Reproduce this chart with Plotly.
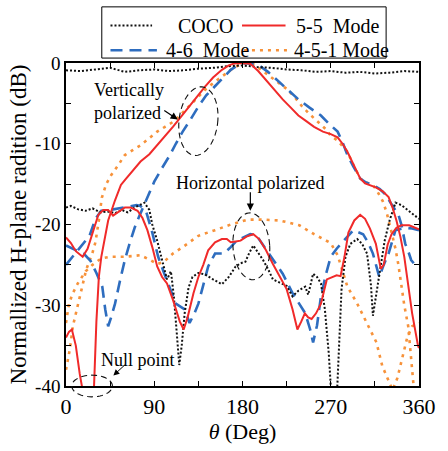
import numpy as np
import plotly.graph_objects as go

# ---------------- data (theta in degrees, normalized level in dB) ----------------
coco_v_theta = [0, 15, 30, 45, 60, 75, 90, 105, 120, 135, 150, 165, 180, 195, 210, 225, 240, 255, 270, 285, 300, 315, 330, 345, 360]
coco_v_db = [-0.9, -1.0, -0.8, -0.6, -1.1, -0.9, -0.8, -1.0, -0.9, -0.7, -0.6, -0.4, -0.3, -0.5, -0.6, -0.8, -0.9, -1.1, -1.0, -1.2, -1.1, -1.3, -1.2, -1.0, -1.1]

coco_h_theta = [0, 5, 12, 20, 27, 35, 43, 50, 57, 63, 70, 76, 80, 85, 88, 93, 98, 103, 107, 110, 113, 115.5, 118, 121, 125, 129, 135, 142, 150, 159, 166, 173, 178, 183, 187, 191, 196, 201, 206, 211, 218, 225, 231, 237, 244, 247, 252, 256, 260, 264, 268, 271, 276, 278, 281, 285, 290, 297, 302, 307, 311, 313, 316, 320, 325, 330, 336, 342, 349, 355, 360]
coco_h_db = [-17.9, -17.7, -18.1, -18.3, -18.0, -18.5, -18.4, -18.6, -18.2, -18.5, -17.9, -17.6, -17.3, -18.2, -20.0, -22.0, -24.5, -26.8, -25.8, -28.9, -33.5, -37.4, -35.0, -31.0, -27.8, -26.5, -26.0, -26.2, -26.8, -27.4, -26.5, -25.2, -24.8, -24.6, -23.5, -22.6, -23.5, -24.4, -25.5, -26.8, -27.2, -27.6, -28.9, -28.2, -27.7, -28.7, -26.1, -26.5, -27.3, -30.5, -36.0, -42.0, -42.0, -36.0, -28.0, -24.0, -22.4, -21.8, -22.4, -23.6, -27.5, -31.3, -29.0, -25.5, -22.0, -19.5, -17.3, -17.6, -18.3, -18.9, -19.3]

m55_v_theta = [0, 3, 6, 10, 14, 17, 22, 26, 28.6, 31, 33.5, 36, 38.5, 43, 50, 56, 60, 68, 76, 85, 93, 101, 109, 117, 125, 133, 142, 150, 159, 166, 172, 180, 188, 196, 204, 212, 221, 229, 237, 245, 253, 262, 270, 277, 282, 287, 293, 300, 305, 310, 316, 323, 329, 333, 337, 341, 345, 349, 353, 359, 360]
m55_v_db = [-34.0, -33.3, -33.0, -35.0, -38.5, -41.0, -44.0, -44.0, -40.0, -32.0, -26.5, -24.0, -22.4, -19.5, -17.0, -15.1, -14.5, -13.3, -12.2, -11.3, -10.2, -9.1, -7.9, -6.7, -5.5, -4.2, -2.9, -1.8, -0.85, -0.3, -0.05, 0.0, -0.1, -1.0, -2.1, -3.3, -4.5, -5.5, -6.5, -7.2, -7.9, -8.5, -8.8, -9.2, -10.0, -11.0, -12.5, -14.3, -14.9, -15.1, -15.4, -15.9, -16.6, -17.9, -19.5, -21.5, -24.0, -27.5, -31.0, -35.0, -35.3]

m55_h_theta = [0, 5, 10, 17, 22, 27, 33, 38, 43, 48, 54, 60, 66, 73, 78, 83, 88, 93, 98, 103, 109, 112, 116, 120, 124, 130, 135, 140, 145, 152, 159, 164, 168, 173, 178, 184, 191, 197, 204, 211, 218, 225, 231, 236, 240, 243.6, 247, 250.5, 255, 260, 266, 272, 276, 280, 284, 288, 294, 300, 305, 310, 316, 321, 324, 328, 332, 337, 342, 350, 360]
m55_h_db = [-21.6, -22.3, -23.3, -24.0, -23.0, -21.2, -18.8, -18.2, -18.2, -18.9, -18.4, -17.9, -17.9, -18.3, -19.2, -20.7, -22.8, -25.2, -26.5, -27.3, -29.3, -30.5, -32.0, -33.0, -31.5, -28.5, -26.5, -25.0, -23.2, -22.2, -21.8, -21.8, -22.2, -22.1, -22.0, -21.5, -21.2, -21.8, -23.2, -24.9, -26.5, -28.0, -30.5, -33.0, -32.0, -31.0, -31.5, -31.7, -31.0, -29.8, -26.8, -26.5, -26.3, -26.4, -24.0, -21.0, -19.5, -18.8, -19.3, -20.5, -22.4, -25.5, -25.0, -22.5, -21.2, -20.4, -20.1, -20.1, -20.6]

m46_v_theta = [0, 6, 12, 18, 25, 31, 37, 40, 43, 46, 50, 55, 60, 65, 70, 75, 80, 85, 90, 98, 106, 112, 119, 127, 135, 143, 152, 160, 168, 175, 181, 188, 198, 206, 214, 225, 237, 248, 260, 268, 277, 282, 287, 293, 300, 306, 313, 320, 326, 332, 336, 339, 342, 346, 349, 352, 356]
m46_v_db = [-22.6, -23.0, -23.3, -23.6, -24.5, -26.0, -27.7, -30.5, -32.6, -31.5, -29.8, -27.0, -24.4, -22.3, -20.4, -18.9, -17.5, -16.0, -14.7, -13.0, -11.4, -10.0, -8.5, -7.0, -5.4, -4.0, -2.9, -1.8, -0.85, -0.3, 0.0, -0.1, -0.4, -1.1, -2.0, -3.2, -4.5, -5.5, -6.5, -7.5, -8.5, -9.8, -11.4, -12.8, -14.3, -14.8, -15.1, -15.6, -16.3, -17.5, -18.2, -18.8, -20.0, -22.4, -23.3, -24.4, -25.0]

m46_h_theta = [0, 8, 16, 24, 30, 36, 45, 55, 65, 72, 76, 82, 88, 94, 100, 106, 112, 121, 126, 131, 135, 140, 145, 152, 161, 168, 174, 181, 188, 194, 199, 204, 212, 221, 231, 238, 244, 249, 252, 256, 260, 265, 270, 276, 283, 293, 303, 308, 313, 319.5, 324, 329, 336, 346, 353, 360]
m46_h_db = [-25.0, -23.8, -22.6, -21.4, -19.3, -18.3, -18.2, -18.0, -17.8, -17.6, -17.7, -18.5, -21.0, -24.0, -26.0, -28.0, -29.8, -30.5, -32.2, -31.0, -29.8, -27.5, -25.2, -23.6, -23.6, -22.8, -22.0, -21.6, -21.2, -21.3, -22.2, -23.2, -24.6, -26.1, -28.5, -29.8, -31.0, -33.0, -34.6, -32.5, -28.9, -26.2, -24.0, -23.0, -22.0, -20.7, -21.2, -22.2, -23.6, -26.5, -25.0, -23.6, -20.7, -20.4, -20.5, -20.7]

m451_v_theta = [0, 4, 7, 14, 20.6, 27, 30, 33.5, 36.5, 41, 46, 53, 60, 68, 76, 85, 93, 101, 109, 117, 125, 133, 142, 150, 159, 166, 172, 180, 186, 192, 200, 209, 217, 225, 233, 241, 249, 257, 265, 270, 277, 282, 287, 293, 300, 306, 313, 318, 323, 327, 330, 333, 336, 339, 342, 345, 349, 352, 354, 356]
m451_v_db = [-38.0, -35.4, -32.6, -28.9, -25.6, -23.5, -22.2, -19.5, -16.7, -15.0, -13.9, -12.7, -11.4, -10.8, -10.2, -9.3, -8.5, -7.9, -7.3, -6.4, -5.4, -4.4, -3.3, -2.5, -1.7, -1.0, -0.5, -0.1, 0.0, -0.2, -0.9, -1.7, -2.4, -3.2, -4.2, -5.4, -6.4, -7.3, -8.2, -9.0, -9.6, -10.3, -11.0, -12.6, -14.3, -14.8, -15.1, -16.0, -17.1, -18.5, -20.0, -21.5, -23.0, -25.0, -27.5, -30.0, -32.6, -36.2, -39.5, -42.0]

m451_h_theta = [0, 3, 7, 12, 20, 27, 36, 45, 60, 76, 86, 93, 100, 109, 119, 135, 152, 168, 185, 201, 218, 238, 253, 262, 270, 277, 287, 297, 307, 316.6, 322.5, 326.5, 329, 333, 338, 343, 348, 353, 360]
m451_h_db = [-32.2, -29.8, -28.5, -27.3, -25.8, -25.0, -24.2, -24.0, -24.0, -23.8, -24.4, -24.9, -24.6, -23.6, -22.8, -21.4, -20.7, -20.0, -19.4, -19.4, -19.5, -20.1, -21.2, -21.8, -22.3, -23.8, -27.7, -29.8, -32.2, -34.6, -37.5, -38.7, -39.5, -40.5, -39.0, -36.5, -34.0, -32.6, -32.2]

series_names = ["COCO", "5-5\u00a0 Mode", "4-6\u00a0 Mode", "4-5-1 Mode"]

x_tick_vals = [0, 45, 90, 135, 180, 225, 270, 315, 360]
x_tick_text = ["0", "", "90", "", "180", "", "270", "", "360"]
y_tick_vals = [0, -5, -10, -15, -20, -25, -30, -35, -40]
y_tick_text = ["0", "", "-10", "", "-20", "", "-30", "", "-40"]

X_RANGE = (0, 360)
Y_RANGE = (-40, 0)

# ---------------- styles ----------------
SERIF = "Liberation Serif, Times New Roman, serif"
BLACK = "#111111"
RED = "#f02a2a"
BLUE = "#2e6dbf"
ORANGE = "#f7923a"

STYLE = {
    "COCO": dict(color=BLACK, dash="2px,2px", width=2.0),
    "5-5\u00a0 Mode": dict(color=RED, dash="solid", width=2.0),
    "4-6\u00a0 Mode": dict(color=BLUE, dash="12px,7px", width=2.6),
    "4-5-1 Mode": dict(color=ORANGE, dash="3px,5px", width=2.6),
}

# figure / plot-area geometry in pixels
W, H = 448, 451
ML, MR, MT, MB = 66, 17, 63, 60
PW, PH = W - ML - MR, H - MT - MB

fig = go.Figure()


def add_curve(theta, db, name):
    fig.add_trace(go.Scatter(x=theta, y=db, mode="lines", name=name,
                             line=STYLE[name], showlegend=False))


add_curve(m451_v_theta, m451_v_db, series_names[3])
add_curve(m451_h_theta, m451_h_db, series_names[3])
add_curve(m46_v_theta, m46_v_db, series_names[2])
add_curve(m46_h_theta, m46_h_db, series_names[2])
add_curve(coco_v_theta, coco_v_db, series_names[0])
add_curve(coco_h_theta, coco_h_db, series_names[0])
add_curve(m55_v_theta, m55_v_db, series_names[1])
add_curve(m55_h_theta, m55_h_db, series_names[1])


def to_paper(theta, db):
    return ((theta - X_RANGE[0]) / (X_RANGE[1] - X_RANGE[0]),
            (db - Y_RANGE[0]) / (Y_RANGE[1] - Y_RANGE[0]))


def px_paper(px, py):
    """Pixel position on the page -> paper coordinates."""
    return (px - ML) / PW, (H - MB - py) / PH


def ellipse_path(theta_c, db_c, a_px, b_px, tilt_deg):
    cx, cy = to_paper(theta_c, db_c)
    t = np.linspace(0, 2 * np.pi, 60)
    phi = np.deg2rad(tilt_deg)
    dx = a_px * np.cos(t)
    dy = b_px * np.sin(t)
    rx = dx * np.cos(phi) - dy * np.sin(phi)
    ry = dx * np.sin(phi) + dy * np.cos(phi)
    xs = cx + rx / PW
    ys = cy + ry / PH
    pts = [f"{x:.5f},{y:.5f}" for x, y in zip(xs, ys)]
    return "M" + " L".join(pts) + " Z"


# dashed ellipses around the highlighted regions
for (tc, dc, a, b, tilt) in [(135, -7.2, 20, 35, -7), (189, -22.7, 19, 34, 4), (26.6, -40.0, 21, 11, 0)]:
    fig.add_shape(type="path", path=ellipse_path(tc, dc, a, b, tilt), xref="paper", yref="paper",
                  line=dict(color=BLACK, width=1.1, dash="6px,4px"))

ann_font = dict(family=SERIF, size=18, color="black")
fig.add_annotation(x=26.6, y=-4.8, xref="x", yref="y", text="Vertically<br>polarized", showarrow=False,
                   xanchor="left", yanchor="middle", align="left", font=ann_font)
fig.add_annotation(x=114, y=-7.0, xref="x", yref="y", text="", showarrow=True, ax=-15, ay=-10,
                   arrowhead=2, arrowsize=1.2, arrowwidth=1.2, arrowcolor="black")
fig.add_annotation(x=188, y=-14.9, xref="x", yref="y", text="Horizontal polarized", showarrow=False,
                   xanchor="center", yanchor="middle", font=ann_font)
fig.add_annotation(x=188, y=-18.3, xref="x", yref="y", text="", showarrow=True, ax=0, ay=-20,
                   arrowhead=2, arrowsize=1.2, arrowwidth=1.2, arrowcolor="black")
fig.add_annotation(x=73, y=-36.8, xref="x", yref="y", text="Null point", showarrow=False,
                   xanchor="center", yanchor="middle", font=ann_font)
fig.add_annotation(x=48.3, y=-38.7, xref="x", yref="y", text="", showarrow=True, ax=13, ay=-12,
                   arrowhead=2, arrowsize=1.2, arrowwidth=1.0, arrowcolor="black")

# legend box: two rows, two entries per row
bx0, by0 = px_paper(103, 6)
bx1, by1 = px_paper(397, 58)
fig.add_shape(type="rect", x0=bx0, y0=by1, x1=bx1, y1=by0, xref="paper", yref="paper",
              line=dict(color="black", width=1), fillcolor="white", layer="above")

legend_slots = [  # (sample start px, sample end px, text start px, row centre px)
    (112, 155, 180, 25),
    (248, 293, 302, 25),
    (112, 160, 167, 50),
    (250, 297, 300, 50),
]
for name, (s0, s1, tx, ry) in zip(series_names, legend_slots):
    lx0, ly = px_paper(s0, ry)
    lx1, _ = px_paper(s1, ry)
    fig.add_shape(type="line", x0=lx0, x1=lx1, y0=ly, y1=ly, xref="paper", yref="paper",
                  line=STYLE[name], layer="above")
    tx_p, _ = px_paper(tx, ry)
    fig.add_annotation(x=tx_p, y=ly, xref="paper", yref="paper", text=name, showarrow=False,
                       xanchor="left", yanchor="middle", font=dict(family=SERIF, size=20, color="black"))

axis_common = dict(showline=True, linecolor="black", linewidth=1.5, mirror="ticks",
                   ticks="inside", ticklen=5, tickwidth=1.2, tickcolor="black",
                   showgrid=False, zeroline=False)

fig.update_layout(
    width=W, height=H,
    margin=dict(l=ML, r=MR, t=MT, b=MB),
    paper_bgcolor="white", plot_bgcolor="white",
    font=dict(family=SERIF, color="black"),
    showlegend=False,
    xaxis=dict(range=list(X_RANGE), tickvals=x_tick_vals, ticktext=x_tick_text,
               tickfont=dict(family=SERIF, size=22),
               title=dict(text="<i>θ</i> (Deg)", font=dict(family=SERIF, size=22), standoff=4),
               **axis_common),
    yaxis=dict(range=list(Y_RANGE), tickvals=y_tick_vals, ticktext=y_tick_text,
               tickfont=dict(family=SERIF, size=19),
               title=dict(text="Normallized H-plane radition (dB)", font=dict(family=SERIF, size=23), standoff=2),
               **axis_common),
)

fig.write_html("out.html")
